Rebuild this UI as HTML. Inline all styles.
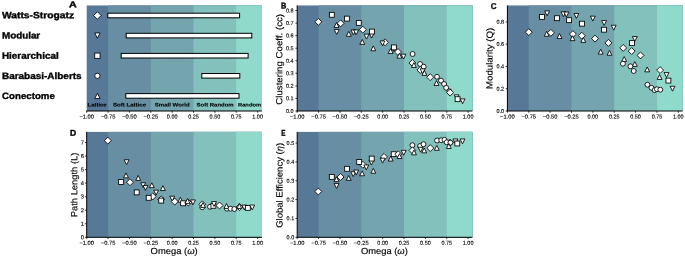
<!DOCTYPE html>
<html><head><meta charset="utf-8"><style>
html,body{margin:0;padding:0;background:#fff;}
body{width:685px;height:258px;overflow:hidden;}
svg{display:block;will-change:transform;text-rendering:geometricPrecision;}
</style></head><body>
<svg width="685" height="258" viewBox="0 0 685 258" font-family='"Liberation Sans", sans-serif'><rect width="685" height="258" fill="#fff"/><rect x="86.70" y="5.45" width="175.20" height="105.55" fill="#587897"/><rect x="108.07" y="5.45" width="153.83" height="105.55" fill="#678ea2"/><rect x="150.80" y="5.45" width="111.10" height="105.55" fill="#74a5af"/><rect x="193.53" y="5.45" width="68.37" height="105.55" fill="#83c1bc"/><rect x="236.26" y="5.45" width="25.64" height="105.55" fill="#90dacc"/><rect x="297.20" y="5.45" width="175.20" height="105.55" fill="#587897"/><rect x="318.57" y="5.45" width="153.83" height="105.55" fill="#678ea2"/><rect x="361.30" y="5.45" width="111.10" height="105.55" fill="#74a5af"/><rect x="404.03" y="5.45" width="68.37" height="105.55" fill="#83c1bc"/><rect x="446.76" y="5.45" width="25.64" height="105.55" fill="#90dacc"/><rect x="507.40" y="5.45" width="175.20" height="105.55" fill="#587897"/><rect x="528.77" y="5.45" width="153.83" height="105.55" fill="#678ea2"/><rect x="571.50" y="5.45" width="111.10" height="105.55" fill="#74a5af"/><rect x="614.23" y="5.45" width="68.37" height="105.55" fill="#83c1bc"/><rect x="656.96" y="5.45" width="25.64" height="105.55" fill="#90dacc"/><rect x="86.70" y="131.90" width="175.20" height="105.40" fill="#587897"/><rect x="108.07" y="131.90" width="153.83" height="105.40" fill="#678ea2"/><rect x="150.80" y="131.90" width="111.10" height="105.40" fill="#74a5af"/><rect x="193.53" y="131.90" width="68.37" height="105.40" fill="#83c1bc"/><rect x="236.26" y="131.90" width="25.64" height="105.40" fill="#90dacc"/><rect x="297.20" y="131.90" width="175.20" height="105.40" fill="#587897"/><rect x="318.57" y="131.90" width="153.83" height="105.40" fill="#678ea2"/><rect x="361.30" y="131.90" width="111.10" height="105.40" fill="#74a5af"/><rect x="404.03" y="131.90" width="68.37" height="105.40" fill="#83c1bc"/><rect x="446.76" y="131.90" width="25.64" height="105.40" fill="#90dacc"/><rect x="107.80" y="13.20" width="131.80" height="4.6" fill="#fff" stroke="#000" stroke-width="1.0"/><path d="M97.40 11.75L101.15 15.50L97.40 19.25L93.65 15.50Z" fill="#fff" stroke="#000" stroke-width="0.85"/><rect x="126.20" y="33.30" width="125.60" height="4.6" fill="#fff" stroke="#000" stroke-width="1.0"/><path d="M97.40 38.25L100.05 32.95L94.75 32.95Z" fill="#fff" stroke="#000" stroke-width="0.85"/><rect x="121.20" y="53.40" width="126.90" height="4.6" fill="#fff" stroke="#000" stroke-width="1.0"/><rect x="94.75" y="53.05" width="5.3" height="5.3" fill="#fff" stroke="#000" stroke-width="0.85"/><rect x="201.80" y="73.50" width="38.00" height="4.6" fill="#fff" stroke="#000" stroke-width="1.0"/><circle cx="97.40" cy="75.80" r="2.65" fill="#fff" stroke="#000" stroke-width="0.85"/><rect x="125.80" y="93.60" width="113.20" height="4.6" fill="#fff" stroke="#000" stroke-width="1.0"/><path d="M97.40 93.25L100.05 98.55L94.75 98.55Z" fill="#fff" stroke="#000" stroke-width="0.85"/><line x1="86.25" y1="111.00" x2="261.90" y2="111.00" stroke="#000" stroke-width="1.0"/><line x1="86.70" y1="111.00" x2="86.70" y2="112.80" stroke="#000" stroke-width="0.75"/><text x="86.70" y="118.50" font-size="5.6" text-anchor="middle" stroke="#000" stroke-width="0.12" textLength="14.60" lengthAdjust="spacingAndGlyphs" transform="rotate(0.05 86.70 118.50)">−1.00</text><line x1="108.07" y1="111.00" x2="108.07" y2="112.80" stroke="#000" stroke-width="0.75"/><text x="108.07" y="118.50" font-size="5.6" text-anchor="middle" stroke="#000" stroke-width="0.12" textLength="14.60" lengthAdjust="spacingAndGlyphs" transform="rotate(0.05 108.07 118.50)">−0.75</text><line x1="129.43" y1="111.00" x2="129.43" y2="112.80" stroke="#000" stroke-width="0.75"/><text x="129.43" y="118.50" font-size="5.6" text-anchor="middle" stroke="#000" stroke-width="0.12" textLength="14.60" lengthAdjust="spacingAndGlyphs" transform="rotate(0.05 129.43 118.50)">−0.50</text><line x1="150.80" y1="111.00" x2="150.80" y2="112.80" stroke="#000" stroke-width="0.75"/><text x="150.80" y="118.50" font-size="5.6" text-anchor="middle" stroke="#000" stroke-width="0.12" textLength="14.60" lengthAdjust="spacingAndGlyphs" transform="rotate(0.05 150.80 118.50)">−0.25</text><line x1="172.16" y1="111.00" x2="172.16" y2="112.80" stroke="#000" stroke-width="0.75"/><text x="172.16" y="118.50" font-size="5.6" text-anchor="middle" stroke="#000" stroke-width="0.12" textLength="10.60" lengthAdjust="spacingAndGlyphs" transform="rotate(0.05 172.16 118.50)">0.00</text><line x1="193.53" y1="111.00" x2="193.53" y2="112.80" stroke="#000" stroke-width="0.75"/><text x="193.53" y="118.50" font-size="5.6" text-anchor="middle" stroke="#000" stroke-width="0.12" textLength="10.60" lengthAdjust="spacingAndGlyphs" transform="rotate(0.05 193.53 118.50)">0.25</text><line x1="214.90" y1="111.00" x2="214.90" y2="112.80" stroke="#000" stroke-width="0.75"/><text x="214.90" y="118.50" font-size="5.6" text-anchor="middle" stroke="#000" stroke-width="0.12" textLength="10.60" lengthAdjust="spacingAndGlyphs" transform="rotate(0.05 214.90 118.50)">0.50</text><line x1="236.26" y1="111.00" x2="236.26" y2="112.80" stroke="#000" stroke-width="0.75"/><text x="236.26" y="118.50" font-size="5.6" text-anchor="middle" stroke="#000" stroke-width="0.12" textLength="10.60" lengthAdjust="spacingAndGlyphs" transform="rotate(0.05 236.26 118.50)">0.75</text><line x1="257.63" y1="111.00" x2="257.63" y2="112.80" stroke="#000" stroke-width="0.75"/><text x="257.63" y="118.50" font-size="5.6" text-anchor="middle" stroke="#000" stroke-width="0.12" textLength="10.60" lengthAdjust="spacingAndGlyphs" transform="rotate(0.05 257.63 118.50)">1.00</text><path d="M336.50 22.55L338.95 27.45L334.05 27.45Z" fill="#fff" stroke="#000" stroke-width="0.85"/><path d="M318.40 18.34L321.86 21.80L318.40 25.26L314.94 21.80Z" fill="#fff" stroke="#000" stroke-width="0.85"/><rect x="329.35" y="12.35" width="4.9" height="4.9" fill="#fff" stroke="#000" stroke-width="0.85"/><rect x="344.45" y="16.15" width="4.9" height="4.9" fill="#fff" stroke="#000" stroke-width="0.85"/><path d="M340.60 19.84L344.06 23.30L340.60 26.76L337.14 23.30Z" fill="#fff" stroke="#000" stroke-width="0.85"/><path d="M336.70 34.45L339.15 29.55L334.25 29.55Z" fill="#fff" stroke="#000" stroke-width="0.85"/><rect x="356.35" y="20.45" width="4.9" height="4.9" fill="#fff" stroke="#000" stroke-width="0.85"/><path d="M348.80 31.35L351.25 36.25L346.35 36.25Z" fill="#fff" stroke="#000" stroke-width="0.85"/><path d="M353.40 34.85L355.85 29.95L350.95 29.95Z" fill="#fff" stroke="#000" stroke-width="0.85"/><path d="M356.10 34.85L358.55 29.95L353.65 29.95Z" fill="#fff" stroke="#000" stroke-width="0.85"/><path d="M362.80 26.14L366.26 29.60L362.80 33.06L359.34 29.60Z" fill="#fff" stroke="#000" stroke-width="0.85"/><path d="M371.60 38.05L374.05 33.15L369.15 33.15Z" fill="#fff" stroke="#000" stroke-width="0.85"/><rect x="369.55" y="29.15" width="4.9" height="4.9" fill="#fff" stroke="#000" stroke-width="0.85"/><path d="M366.50 39.05L368.95 34.15L364.05 34.15Z" fill="#fff" stroke="#000" stroke-width="0.85"/><path d="M362.30 39.45L364.75 44.35L359.85 44.35Z" fill="#fff" stroke="#000" stroke-width="0.85"/><path d="M385.00 38.84L388.46 42.30L385.00 45.76L381.54 42.30Z" fill="#fff" stroke="#000" stroke-width="0.85"/><path d="M382.50 45.85L384.95 40.95L380.05 40.95Z" fill="#fff" stroke="#000" stroke-width="0.85"/><path d="M373.30 45.85L375.75 50.75L370.85 50.75Z" fill="#fff" stroke="#000" stroke-width="0.85"/><path d="M393.80 51.45L396.25 46.55L391.35 46.55Z" fill="#fff" stroke="#000" stroke-width="0.85"/><path d="M390.60 48.55L393.05 53.45L388.15 53.45Z" fill="#fff" stroke="#000" stroke-width="0.85"/><rect x="391.45" y="44.95" width="4.9" height="4.9" fill="#fff" stroke="#000" stroke-width="0.85"/><path d="M398.00 48.54L401.46 52.00L398.00 55.46L394.54 52.00Z" fill="#fff" stroke="#000" stroke-width="0.85"/><path d="M399.40 53.25L401.85 58.15L396.95 58.15Z" fill="#fff" stroke="#000" stroke-width="0.85"/><path d="M403.50 59.05L405.95 54.15L401.05 54.15Z" fill="#fff" stroke="#000" stroke-width="0.85"/><circle cx="412.60" cy="54.00" r="2.45" fill="#fff" stroke="#000" stroke-width="0.85"/><path d="M412.40 59.54L415.86 63.00L412.40 66.46L408.94 63.00Z" fill="#fff" stroke="#000" stroke-width="0.85"/><path d="M413.90 62.55L416.35 67.45L411.45 67.45Z" fill="#fff" stroke="#000" stroke-width="0.85"/><circle cx="420.10" cy="64.00" r="2.45" fill="#fff" stroke="#000" stroke-width="0.85"/><circle cx="423.70" cy="66.70" r="2.45" fill="#fff" stroke="#000" stroke-width="0.85"/><path d="M420.30 66.54L423.76 70.00L420.30 73.46L416.84 70.00Z" fill="#fff" stroke="#000" stroke-width="0.85"/><path d="M422.60 73.75L425.05 68.85L420.15 68.85Z" fill="#fff" stroke="#000" stroke-width="0.85"/><path d="M424.40 70.45L426.85 75.35L421.95 75.35Z" fill="#fff" stroke="#000" stroke-width="0.85"/><path d="M430.20 73.74L433.66 77.20L430.20 80.66L426.74 77.20Z" fill="#fff" stroke="#000" stroke-width="0.85"/><circle cx="437.00" cy="76.80" r="2.45" fill="#fff" stroke="#000" stroke-width="0.85"/><path d="M436.50 80.55L438.95 85.45L434.05 85.45Z" fill="#fff" stroke="#000" stroke-width="0.85"/><circle cx="441.00" cy="80.60" r="2.45" fill="#fff" stroke="#000" stroke-width="0.85"/><circle cx="444.10" cy="84.00" r="2.45" fill="#fff" stroke="#000" stroke-width="0.85"/><circle cx="446.20" cy="87.80" r="2.45" fill="#fff" stroke="#000" stroke-width="0.85"/><circle cx="449.40" cy="91.30" r="2.45" fill="#fff" stroke="#000" stroke-width="0.85"/><path d="M450.10 89.14L453.56 92.60L450.10 96.06L446.64 92.60Z" fill="#fff" stroke="#000" stroke-width="0.85"/><path d="M456.60 99.75L459.05 94.85L454.15 94.85Z" fill="#fff" stroke="#000" stroke-width="0.85"/><rect x="455.15" y="96.75" width="4.9" height="4.9" fill="#fff" stroke="#000" stroke-width="0.85"/><path d="M462.60 103.75L465.05 98.85L460.15 98.85Z" fill="#fff" stroke="#000" stroke-width="0.85"/><line x1="297.20" y1="5.45" x2="297.20" y2="111.40" stroke="#000" stroke-width="1.0"/><line x1="296.75" y1="111.00" x2="472.40" y2="111.00" stroke="#000" stroke-width="1.0"/><line x1="297.20" y1="111.00" x2="297.20" y2="112.80" stroke="#000" stroke-width="0.75"/><text x="297.20" y="118.50" font-size="5.6" text-anchor="middle" stroke="#000" stroke-width="0.12" textLength="14.60" lengthAdjust="spacingAndGlyphs" transform="rotate(0.05 297.20 118.50)">−1.00</text><line x1="318.57" y1="111.00" x2="318.57" y2="112.80" stroke="#000" stroke-width="0.75"/><text x="318.57" y="118.50" font-size="5.6" text-anchor="middle" stroke="#000" stroke-width="0.12" textLength="14.60" lengthAdjust="spacingAndGlyphs" transform="rotate(0.05 318.57 118.50)">−0.75</text><line x1="339.93" y1="111.00" x2="339.93" y2="112.80" stroke="#000" stroke-width="0.75"/><text x="339.93" y="118.50" font-size="5.6" text-anchor="middle" stroke="#000" stroke-width="0.12" textLength="14.60" lengthAdjust="spacingAndGlyphs" transform="rotate(0.05 339.93 118.50)">−0.50</text><line x1="361.30" y1="111.00" x2="361.30" y2="112.80" stroke="#000" stroke-width="0.75"/><text x="361.30" y="118.50" font-size="5.6" text-anchor="middle" stroke="#000" stroke-width="0.12" textLength="14.60" lengthAdjust="spacingAndGlyphs" transform="rotate(0.05 361.30 118.50)">−0.25</text><line x1="382.66" y1="111.00" x2="382.66" y2="112.80" stroke="#000" stroke-width="0.75"/><text x="382.66" y="118.50" font-size="5.6" text-anchor="middle" stroke="#000" stroke-width="0.12" textLength="10.60" lengthAdjust="spacingAndGlyphs" transform="rotate(0.05 382.66 118.50)">0.00</text><line x1="404.03" y1="111.00" x2="404.03" y2="112.80" stroke="#000" stroke-width="0.75"/><text x="404.03" y="118.50" font-size="5.6" text-anchor="middle" stroke="#000" stroke-width="0.12" textLength="10.60" lengthAdjust="spacingAndGlyphs" transform="rotate(0.05 404.03 118.50)">0.25</text><line x1="425.40" y1="111.00" x2="425.40" y2="112.80" stroke="#000" stroke-width="0.75"/><text x="425.40" y="118.50" font-size="5.6" text-anchor="middle" stroke="#000" stroke-width="0.12" textLength="10.60" lengthAdjust="spacingAndGlyphs" transform="rotate(0.05 425.40 118.50)">0.50</text><line x1="446.76" y1="111.00" x2="446.76" y2="112.80" stroke="#000" stroke-width="0.75"/><text x="446.76" y="118.50" font-size="5.6" text-anchor="middle" stroke="#000" stroke-width="0.12" textLength="10.60" lengthAdjust="spacingAndGlyphs" transform="rotate(0.05 446.76 118.50)">0.75</text><line x1="468.13" y1="111.00" x2="468.13" y2="112.80" stroke="#000" stroke-width="0.75"/><text x="468.13" y="118.50" font-size="5.6" text-anchor="middle" stroke="#000" stroke-width="0.12" textLength="10.60" lengthAdjust="spacingAndGlyphs" transform="rotate(0.05 468.13 118.50)">1.00</text><line x1="295.40" y1="111.00" x2="297.20" y2="111.00" stroke="#000" stroke-width="0.75"/><text x="293.60" y="112.95" font-size="5.6" text-anchor="end" stroke="#000" stroke-width="0.12" textLength="7.60" lengthAdjust="spacingAndGlyphs" transform="rotate(0.05 293.60 112.95)">0.0</text><line x1="295.40" y1="98.44" x2="297.20" y2="98.44" stroke="#000" stroke-width="0.75"/><text x="293.60" y="100.39" font-size="5.6" text-anchor="end" stroke="#000" stroke-width="0.12" textLength="7.60" lengthAdjust="spacingAndGlyphs" transform="rotate(0.05 293.60 100.39)">0.1</text><line x1="295.40" y1="85.88" x2="297.20" y2="85.88" stroke="#000" stroke-width="0.75"/><text x="293.60" y="87.83" font-size="5.6" text-anchor="end" stroke="#000" stroke-width="0.12" textLength="7.60" lengthAdjust="spacingAndGlyphs" transform="rotate(0.05 293.60 87.83)">0.2</text><line x1="295.40" y1="73.32" x2="297.20" y2="73.32" stroke="#000" stroke-width="0.75"/><text x="293.60" y="75.27" font-size="5.6" text-anchor="end" stroke="#000" stroke-width="0.12" textLength="7.60" lengthAdjust="spacingAndGlyphs" transform="rotate(0.05 293.60 75.27)">0.3</text><line x1="295.40" y1="60.76" x2="297.20" y2="60.76" stroke="#000" stroke-width="0.75"/><text x="293.60" y="62.71" font-size="5.6" text-anchor="end" stroke="#000" stroke-width="0.12" textLength="7.60" lengthAdjust="spacingAndGlyphs" transform="rotate(0.05 293.60 62.71)">0.4</text><line x1="295.40" y1="48.20" x2="297.20" y2="48.20" stroke="#000" stroke-width="0.75"/><text x="293.60" y="50.15" font-size="5.6" text-anchor="end" stroke="#000" stroke-width="0.12" textLength="7.60" lengthAdjust="spacingAndGlyphs" transform="rotate(0.05 293.60 50.15)">0.5</text><line x1="295.40" y1="35.64" x2="297.20" y2="35.64" stroke="#000" stroke-width="0.75"/><text x="293.60" y="37.59" font-size="5.6" text-anchor="end" stroke="#000" stroke-width="0.12" textLength="7.60" lengthAdjust="spacingAndGlyphs" transform="rotate(0.05 293.60 37.59)">0.6</text><line x1="295.40" y1="23.08" x2="297.20" y2="23.08" stroke="#000" stroke-width="0.75"/><text x="293.60" y="25.03" font-size="5.6" text-anchor="end" stroke="#000" stroke-width="0.12" textLength="7.60" lengthAdjust="spacingAndGlyphs" transform="rotate(0.05 293.60 25.03)">0.7</text><line x1="295.40" y1="10.52" x2="297.20" y2="10.52" stroke="#000" stroke-width="0.75"/><text x="293.60" y="12.47" font-size="5.6" text-anchor="end" stroke="#000" stroke-width="0.12" textLength="7.60" lengthAdjust="spacingAndGlyphs" transform="rotate(0.05 293.60 12.47)">0.8</text><path d="M528.80 28.64L532.26 32.10L528.80 35.56L525.34 32.10Z" fill="#fff" stroke="#000" stroke-width="0.85"/><rect x="539.55" y="14.45" width="4.9" height="4.9" fill="#fff" stroke="#000" stroke-width="0.85"/><path d="M547.10 15.85L549.55 10.95L544.65 10.95Z" fill="#fff" stroke="#000" stroke-width="0.85"/><rect x="554.55" y="15.75" width="4.9" height="4.9" fill="#fff" stroke="#000" stroke-width="0.85"/><path d="M563.40 16.65L565.85 11.75L560.95 11.75Z" fill="#fff" stroke="#000" stroke-width="0.85"/><path d="M566.40 16.95L568.85 12.05L563.95 12.05Z" fill="#fff" stroke="#000" stroke-width="0.85"/><rect x="566.65" y="17.75" width="4.9" height="4.9" fill="#fff" stroke="#000" stroke-width="0.85"/><path d="M576.40 18.35L578.85 13.45L573.95 13.45Z" fill="#fff" stroke="#000" stroke-width="0.85"/><rect x="579.55" y="21.25" width="4.9" height="4.9" fill="#fff" stroke="#000" stroke-width="0.85"/><path d="M592.80 21.05L595.25 16.15L590.35 16.15Z" fill="#fff" stroke="#000" stroke-width="0.85"/><path d="M604.10 25.45L606.55 20.55L601.65 20.55Z" fill="#fff" stroke="#000" stroke-width="0.85"/><rect x="601.55" y="27.25" width="4.9" height="4.9" fill="#fff" stroke="#000" stroke-width="0.85"/><path d="M613.70 30.15L616.15 25.25L611.25 25.25Z" fill="#fff" stroke="#000" stroke-width="0.85"/><path d="M546.70 31.35L549.15 36.25L544.25 36.25Z" fill="#fff" stroke="#000" stroke-width="0.85"/><path d="M550.90 29.34L554.36 32.80L550.90 36.26L547.44 32.80Z" fill="#fff" stroke="#000" stroke-width="0.85"/><path d="M559.50 33.55L561.95 38.45L557.05 38.45Z" fill="#fff" stroke="#000" stroke-width="0.85"/><path d="M572.90 30.64L576.36 34.10L572.90 37.56L569.44 34.10Z" fill="#fff" stroke="#000" stroke-width="0.85"/><path d="M572.50 35.75L574.95 40.65L570.05 40.65Z" fill="#fff" stroke="#000" stroke-width="0.85"/><path d="M581.80 32.24L585.26 35.70L581.80 39.16L578.34 35.70Z" fill="#fff" stroke="#000" stroke-width="0.85"/><path d="M583.30 37.45L585.75 42.35L580.85 42.35Z" fill="#fff" stroke="#000" stroke-width="0.85"/><path d="M595.00 35.14L598.46 38.60L595.00 42.06L591.54 38.60Z" fill="#fff" stroke="#000" stroke-width="0.85"/><path d="M608.40 39.44L611.86 42.90L608.40 46.36L604.94 42.90Z" fill="#fff" stroke="#000" stroke-width="0.85"/><path d="M600.70 49.25L603.15 54.15L598.25 54.15Z" fill="#fff" stroke="#000" stroke-width="0.85"/><path d="M609.50 50.35L611.95 55.25L607.05 55.25Z" fill="#fff" stroke="#000" stroke-width="0.85"/><path d="M634.80 41.45L637.25 36.55L632.35 36.55Z" fill="#fff" stroke="#000" stroke-width="0.85"/><rect x="629.55" y="40.65" width="4.9" height="4.9" fill="#fff" stroke="#000" stroke-width="0.85"/><path d="M623.20 44.44L626.66 47.90L623.20 51.36L619.74 47.90Z" fill="#fff" stroke="#000" stroke-width="0.85"/><path d="M631.70 47.64L635.16 51.10L631.70 54.56L628.24 51.10Z" fill="#fff" stroke="#000" stroke-width="0.85"/><path d="M640.50 51.94L643.96 55.40L640.50 58.86L637.04 55.40Z" fill="#fff" stroke="#000" stroke-width="0.85"/><path d="M624.20 56.55L626.65 61.45L621.75 61.45Z" fill="#fff" stroke="#000" stroke-width="0.85"/><circle cx="622.90" cy="63.70" r="2.45" fill="#fff" stroke="#000" stroke-width="0.85"/><path d="M634.80 61.55L637.25 66.45L632.35 66.45Z" fill="#fff" stroke="#000" stroke-width="0.85"/><circle cx="630.40" cy="66.30" r="2.45" fill="#fff" stroke="#000" stroke-width="0.85"/><circle cx="633.70" cy="71.00" r="2.45" fill="#fff" stroke="#000" stroke-width="0.85"/><path d="M647.20 66.95L649.65 71.85L644.75 71.85Z" fill="#fff" stroke="#000" stroke-width="0.85"/><path d="M660.10 66.64L663.56 70.10L660.10 73.56L656.64 70.10Z" fill="#fff" stroke="#000" stroke-width="0.85"/><path d="M659.60 74.55L662.05 79.45L657.15 79.45Z" fill="#fff" stroke="#000" stroke-width="0.85"/><path d="M666.50 77.45L668.95 72.55L664.05 72.55Z" fill="#fff" stroke="#000" stroke-width="0.85"/><rect x="665.95" y="78.15" width="4.9" height="4.9" fill="#fff" stroke="#000" stroke-width="0.85"/><path d="M672.50 91.15L674.95 86.25L670.05 86.25Z" fill="#fff" stroke="#000" stroke-width="0.85"/><circle cx="647.40" cy="84.70" r="2.45" fill="#fff" stroke="#000" stroke-width="0.85"/><circle cx="651.50" cy="87.80" r="2.45" fill="#fff" stroke="#000" stroke-width="0.85"/><circle cx="654.60" cy="90.10" r="2.45" fill="#fff" stroke="#000" stroke-width="0.85"/><circle cx="656.90" cy="89.20" r="2.45" fill="#fff" stroke="#000" stroke-width="0.85"/><circle cx="660.30" cy="89.70" r="2.45" fill="#fff" stroke="#000" stroke-width="0.85"/><line x1="507.40" y1="5.45" x2="507.40" y2="111.40" stroke="#000" stroke-width="1.0"/><line x1="506.95" y1="111.00" x2="682.60" y2="111.00" stroke="#000" stroke-width="1.0"/><line x1="507.40" y1="111.00" x2="507.40" y2="112.80" stroke="#000" stroke-width="0.75"/><text x="507.40" y="118.50" font-size="5.6" text-anchor="middle" stroke="#000" stroke-width="0.12" textLength="14.60" lengthAdjust="spacingAndGlyphs" transform="rotate(0.05 507.40 118.50)">−1.00</text><line x1="528.77" y1="111.00" x2="528.77" y2="112.80" stroke="#000" stroke-width="0.75"/><text x="528.77" y="118.50" font-size="5.6" text-anchor="middle" stroke="#000" stroke-width="0.12" textLength="14.60" lengthAdjust="spacingAndGlyphs" transform="rotate(0.05 528.77 118.50)">−0.75</text><line x1="550.13" y1="111.00" x2="550.13" y2="112.80" stroke="#000" stroke-width="0.75"/><text x="550.13" y="118.50" font-size="5.6" text-anchor="middle" stroke="#000" stroke-width="0.12" textLength="14.60" lengthAdjust="spacingAndGlyphs" transform="rotate(0.05 550.13 118.50)">−0.50</text><line x1="571.50" y1="111.00" x2="571.50" y2="112.80" stroke="#000" stroke-width="0.75"/><text x="571.50" y="118.50" font-size="5.6" text-anchor="middle" stroke="#000" stroke-width="0.12" textLength="14.60" lengthAdjust="spacingAndGlyphs" transform="rotate(0.05 571.50 118.50)">−0.25</text><line x1="592.86" y1="111.00" x2="592.86" y2="112.80" stroke="#000" stroke-width="0.75"/><text x="592.86" y="118.50" font-size="5.6" text-anchor="middle" stroke="#000" stroke-width="0.12" textLength="10.60" lengthAdjust="spacingAndGlyphs" transform="rotate(0.05 592.86 118.50)">0.00</text><line x1="614.23" y1="111.00" x2="614.23" y2="112.80" stroke="#000" stroke-width="0.75"/><text x="614.23" y="118.50" font-size="5.6" text-anchor="middle" stroke="#000" stroke-width="0.12" textLength="10.60" lengthAdjust="spacingAndGlyphs" transform="rotate(0.05 614.23 118.50)">0.25</text><line x1="635.60" y1="111.00" x2="635.60" y2="112.80" stroke="#000" stroke-width="0.75"/><text x="635.60" y="118.50" font-size="5.6" text-anchor="middle" stroke="#000" stroke-width="0.12" textLength="10.60" lengthAdjust="spacingAndGlyphs" transform="rotate(0.05 635.60 118.50)">0.50</text><line x1="656.96" y1="111.00" x2="656.96" y2="112.80" stroke="#000" stroke-width="0.75"/><text x="656.96" y="118.50" font-size="5.6" text-anchor="middle" stroke="#000" stroke-width="0.12" textLength="10.60" lengthAdjust="spacingAndGlyphs" transform="rotate(0.05 656.96 118.50)">0.75</text><line x1="678.33" y1="111.00" x2="678.33" y2="112.80" stroke="#000" stroke-width="0.75"/><text x="678.33" y="118.50" font-size="5.6" text-anchor="middle" stroke="#000" stroke-width="0.12" textLength="10.60" lengthAdjust="spacingAndGlyphs" transform="rotate(0.05 678.33 118.50)">1.00</text><line x1="505.60" y1="111.00" x2="507.40" y2="111.00" stroke="#000" stroke-width="0.75"/><text x="504.00" y="112.95" font-size="5.6" text-anchor="end" stroke="#000" stroke-width="0.12" textLength="7.60" lengthAdjust="spacingAndGlyphs" transform="rotate(0.05 504.00 112.95)">0.0</text><line x1="505.60" y1="88.72" x2="507.40" y2="88.72" stroke="#000" stroke-width="0.75"/><text x="504.00" y="90.67" font-size="5.6" text-anchor="end" stroke="#000" stroke-width="0.12" textLength="7.60" lengthAdjust="spacingAndGlyphs" transform="rotate(0.05 504.00 90.67)">0.2</text><line x1="505.60" y1="66.44" x2="507.40" y2="66.44" stroke="#000" stroke-width="0.75"/><text x="504.00" y="68.39" font-size="5.6" text-anchor="end" stroke="#000" stroke-width="0.12" textLength="7.60" lengthAdjust="spacingAndGlyphs" transform="rotate(0.05 504.00 68.39)">0.4</text><line x1="505.60" y1="44.16" x2="507.40" y2="44.16" stroke="#000" stroke-width="0.75"/><text x="504.00" y="46.11" font-size="5.6" text-anchor="end" stroke="#000" stroke-width="0.12" textLength="7.60" lengthAdjust="spacingAndGlyphs" transform="rotate(0.05 504.00 46.11)">0.6</text><line x1="505.60" y1="21.88" x2="507.40" y2="21.88" stroke="#000" stroke-width="0.75"/><text x="504.00" y="23.83" font-size="5.6" text-anchor="end" stroke="#000" stroke-width="0.12" textLength="7.60" lengthAdjust="spacingAndGlyphs" transform="rotate(0.05 504.00 23.83)">0.8</text><path d="M107.80 137.14L111.26 140.60L107.80 144.06L104.34 140.60Z" fill="#fff" stroke="#000" stroke-width="0.85"/><path d="M126.60 164.65L129.05 159.75L124.15 159.75Z" fill="#fff" stroke="#000" stroke-width="0.85"/><path d="M126.00 172.95L128.45 177.85L123.55 177.85Z" fill="#fff" stroke="#000" stroke-width="0.85"/><path d="M138.20 175.45L140.65 180.35L135.75 180.35Z" fill="#fff" stroke="#000" stroke-width="0.85"/><rect x="118.65" y="179.55" width="4.9" height="4.9" fill="#fff" stroke="#000" stroke-width="0.85"/><path d="M130.00 178.74L133.46 182.20L130.00 185.66L126.54 182.20Z" fill="#fff" stroke="#000" stroke-width="0.85"/><path d="M143.20 187.65L145.65 182.75L140.75 182.75Z" fill="#fff" stroke="#000" stroke-width="0.85"/><path d="M145.50 190.35L147.95 185.45L143.05 185.45Z" fill="#fff" stroke="#000" stroke-width="0.85"/><path d="M151.80 182.75L154.25 187.65L149.35 187.65Z" fill="#fff" stroke="#000" stroke-width="0.85"/><rect x="134.25" y="189.95" width="4.9" height="4.9" fill="#fff" stroke="#000" stroke-width="0.85"/><path d="M162.90 185.65L165.35 190.55L160.45 190.55Z" fill="#fff" stroke="#000" stroke-width="0.85"/><path d="M152.70 192.94L156.16 196.40L152.70 199.86L149.24 196.40Z" fill="#fff" stroke="#000" stroke-width="0.85"/><rect x="146.25" y="195.35" width="4.9" height="4.9" fill="#fff" stroke="#000" stroke-width="0.85"/><path d="M156.10 195.05L158.55 190.15L153.65 190.15Z" fill="#fff" stroke="#000" stroke-width="0.85"/><path d="M161.20 195.94L164.66 199.40L161.20 202.86L157.74 199.40Z" fill="#fff" stroke="#000" stroke-width="0.85"/><rect x="158.75" y="198.15" width="4.9" height="4.9" fill="#fff" stroke="#000" stroke-width="0.85"/><path d="M172.20 201.05L174.65 196.15L169.75 196.15Z" fill="#fff" stroke="#000" stroke-width="0.85"/><path d="M174.70 198.14L178.16 201.60L174.70 205.06L171.24 201.60Z" fill="#fff" stroke="#000" stroke-width="0.85"/><path d="M180.40 197.25L182.85 202.15L177.95 202.15Z" fill="#fff" stroke="#000" stroke-width="0.85"/><rect x="180.65" y="200.85" width="4.9" height="4.9" fill="#fff" stroke="#000" stroke-width="0.85"/><path d="M188.30 199.14L191.76 202.60L188.30 206.06L184.84 202.60Z" fill="#fff" stroke="#000" stroke-width="0.85"/><path d="M187.50 198.55L189.95 203.45L185.05 203.45Z" fill="#fff" stroke="#000" stroke-width="0.85"/><path d="M193.00 204.85L195.45 199.95L190.55 199.95Z" fill="#fff" stroke="#000" stroke-width="0.85"/><path d="M202.40 200.84L205.86 204.30L202.40 207.76L198.94 204.30Z" fill="#fff" stroke="#000" stroke-width="0.85"/><circle cx="202.20" cy="207.30" r="2.45" fill="#fff" stroke="#000" stroke-width="0.85"/><path d="M203.00 202.55L205.45 207.45L200.55 207.45Z" fill="#fff" stroke="#000" stroke-width="0.85"/><circle cx="210.00" cy="206.80" r="2.45" fill="#fff" stroke="#000" stroke-width="0.85"/><rect x="210.95" y="203.35" width="4.9" height="4.9" fill="#fff" stroke="#000" stroke-width="0.85"/><path d="M214.00 206.45L216.45 201.55L211.55 201.55Z" fill="#fff" stroke="#000" stroke-width="0.85"/><path d="M219.50 202.04L222.96 205.50L219.50 208.96L216.04 205.50Z" fill="#fff" stroke="#000" stroke-width="0.85"/><circle cx="226.90" cy="208.70" r="2.45" fill="#fff" stroke="#000" stroke-width="0.85"/><path d="M226.50 203.55L228.95 208.45L224.05 208.45Z" fill="#fff" stroke="#000" stroke-width="0.85"/><circle cx="230.50" cy="208.70" r="2.45" fill="#fff" stroke="#000" stroke-width="0.85"/><circle cx="234.30" cy="209.00" r="2.45" fill="#fff" stroke="#000" stroke-width="0.85"/><path d="M239.50 203.64L242.96 207.10L239.50 210.56L236.04 207.10Z" fill="#fff" stroke="#000" stroke-width="0.85"/><path d="M239.30 203.55L241.75 208.45L236.85 208.45Z" fill="#fff" stroke="#000" stroke-width="0.85"/><path d="M244.30 209.95L246.75 205.05L241.85 205.05Z" fill="#fff" stroke="#000" stroke-width="0.85"/><rect x="245.35" y="205.45" width="4.9" height="4.9" fill="#fff" stroke="#000" stroke-width="0.85"/><path d="M252.20 209.95L254.65 205.05L249.75 205.05Z" fill="#fff" stroke="#000" stroke-width="0.85"/><line x1="86.70" y1="131.90" x2="86.70" y2="237.70" stroke="#000" stroke-width="1.0"/><line x1="86.25" y1="237.30" x2="261.90" y2="237.30" stroke="#000" stroke-width="1.0"/><line x1="86.70" y1="237.30" x2="86.70" y2="239.10" stroke="#000" stroke-width="0.75"/><text x="86.70" y="244.80" font-size="5.6" text-anchor="middle" stroke="#000" stroke-width="0.12" textLength="14.60" lengthAdjust="spacingAndGlyphs" transform="rotate(0.05 86.70 244.80)">−1.00</text><line x1="108.07" y1="237.30" x2="108.07" y2="239.10" stroke="#000" stroke-width="0.75"/><text x="108.07" y="244.80" font-size="5.6" text-anchor="middle" stroke="#000" stroke-width="0.12" textLength="14.60" lengthAdjust="spacingAndGlyphs" transform="rotate(0.05 108.07 244.80)">−0.75</text><line x1="129.43" y1="237.30" x2="129.43" y2="239.10" stroke="#000" stroke-width="0.75"/><text x="129.43" y="244.80" font-size="5.6" text-anchor="middle" stroke="#000" stroke-width="0.12" textLength="14.60" lengthAdjust="spacingAndGlyphs" transform="rotate(0.05 129.43 244.80)">−0.50</text><line x1="150.80" y1="237.30" x2="150.80" y2="239.10" stroke="#000" stroke-width="0.75"/><text x="150.80" y="244.80" font-size="5.6" text-anchor="middle" stroke="#000" stroke-width="0.12" textLength="14.60" lengthAdjust="spacingAndGlyphs" transform="rotate(0.05 150.80 244.80)">−0.25</text><line x1="172.16" y1="237.30" x2="172.16" y2="239.10" stroke="#000" stroke-width="0.75"/><text x="172.16" y="244.80" font-size="5.6" text-anchor="middle" stroke="#000" stroke-width="0.12" textLength="10.60" lengthAdjust="spacingAndGlyphs" transform="rotate(0.05 172.16 244.80)">0.00</text><line x1="193.53" y1="237.30" x2="193.53" y2="239.10" stroke="#000" stroke-width="0.75"/><text x="193.53" y="244.80" font-size="5.6" text-anchor="middle" stroke="#000" stroke-width="0.12" textLength="10.60" lengthAdjust="spacingAndGlyphs" transform="rotate(0.05 193.53 244.80)">0.25</text><line x1="214.90" y1="237.30" x2="214.90" y2="239.10" stroke="#000" stroke-width="0.75"/><text x="214.90" y="244.80" font-size="5.6" text-anchor="middle" stroke="#000" stroke-width="0.12" textLength="10.60" lengthAdjust="spacingAndGlyphs" transform="rotate(0.05 214.90 244.80)">0.50</text><line x1="236.26" y1="237.30" x2="236.26" y2="239.10" stroke="#000" stroke-width="0.75"/><text x="236.26" y="244.80" font-size="5.6" text-anchor="middle" stroke="#000" stroke-width="0.12" textLength="10.60" lengthAdjust="spacingAndGlyphs" transform="rotate(0.05 236.26 244.80)">0.75</text><line x1="257.63" y1="237.30" x2="257.63" y2="239.10" stroke="#000" stroke-width="0.75"/><text x="257.63" y="244.80" font-size="5.6" text-anchor="middle" stroke="#000" stroke-width="0.12" textLength="10.60" lengthAdjust="spacingAndGlyphs" transform="rotate(0.05 257.63 244.80)">1.00</text><line x1="84.90" y1="237.30" x2="86.70" y2="237.30" stroke="#000" stroke-width="0.75"/><text x="84.00" y="239.25" font-size="5.6" text-anchor="end" stroke="#000" stroke-width="0.12" textLength="3.20" lengthAdjust="spacingAndGlyphs" transform="rotate(0.05 84.00 239.25)">0</text><line x1="84.90" y1="223.76" x2="86.70" y2="223.76" stroke="#000" stroke-width="0.75"/><text x="84.00" y="225.71" font-size="5.6" text-anchor="end" stroke="#000" stroke-width="0.12" textLength="3.20" lengthAdjust="spacingAndGlyphs" transform="rotate(0.05 84.00 225.71)">1</text><line x1="84.90" y1="210.22" x2="86.70" y2="210.22" stroke="#000" stroke-width="0.75"/><text x="84.00" y="212.17" font-size="5.6" text-anchor="end" stroke="#000" stroke-width="0.12" textLength="3.20" lengthAdjust="spacingAndGlyphs" transform="rotate(0.05 84.00 212.17)">2</text><line x1="84.90" y1="196.68" x2="86.70" y2="196.68" stroke="#000" stroke-width="0.75"/><text x="84.00" y="198.63" font-size="5.6" text-anchor="end" stroke="#000" stroke-width="0.12" textLength="3.20" lengthAdjust="spacingAndGlyphs" transform="rotate(0.05 84.00 198.63)">3</text><line x1="84.90" y1="183.14" x2="86.70" y2="183.14" stroke="#000" stroke-width="0.75"/><text x="84.00" y="185.09" font-size="5.6" text-anchor="end" stroke="#000" stroke-width="0.12" textLength="3.20" lengthAdjust="spacingAndGlyphs" transform="rotate(0.05 84.00 185.09)">4</text><line x1="84.90" y1="169.60" x2="86.70" y2="169.60" stroke="#000" stroke-width="0.75"/><text x="84.00" y="171.55" font-size="5.6" text-anchor="end" stroke="#000" stroke-width="0.12" textLength="3.20" lengthAdjust="spacingAndGlyphs" transform="rotate(0.05 84.00 171.55)">5</text><line x1="84.90" y1="156.06" x2="86.70" y2="156.06" stroke="#000" stroke-width="0.75"/><text x="84.00" y="158.01" font-size="5.6" text-anchor="end" stroke="#000" stroke-width="0.12" textLength="3.20" lengthAdjust="spacingAndGlyphs" transform="rotate(0.05 84.00 158.01)">6</text><line x1="84.90" y1="142.52" x2="86.70" y2="142.52" stroke="#000" stroke-width="0.75"/><text x="84.00" y="144.47" font-size="5.6" text-anchor="end" stroke="#000" stroke-width="0.12" textLength="3.20" lengthAdjust="spacingAndGlyphs" transform="rotate(0.05 84.00 144.47)">7</text><path d="M318.30 188.04L321.76 191.50L318.30 194.96L314.84 191.50Z" fill="#fff" stroke="#000" stroke-width="0.85"/><rect x="329.35" y="174.45" width="4.9" height="4.9" fill="#fff" stroke="#000" stroke-width="0.85"/><path d="M336.50 176.75L338.95 181.65L334.05 181.65Z" fill="#fff" stroke="#000" stroke-width="0.85"/><path d="M340.50 173.54L343.96 177.00L340.50 180.46L337.04 177.00Z" fill="#fff" stroke="#000" stroke-width="0.85"/><path d="M336.60 188.45L339.05 183.55L334.15 183.55Z" fill="#fff" stroke="#000" stroke-width="0.85"/><rect x="344.65" y="166.35" width="4.9" height="4.9" fill="#fff" stroke="#000" stroke-width="0.85"/><path d="M348.70 175.45L351.15 180.35L346.25 180.35Z" fill="#fff" stroke="#000" stroke-width="0.85"/><path d="M353.20 176.65L355.65 171.75L350.75 171.75Z" fill="#fff" stroke="#000" stroke-width="0.85"/><path d="M356.20 174.95L358.65 170.05L353.75 170.05Z" fill="#fff" stroke="#000" stroke-width="0.85"/><path d="M362.90 161.34L366.36 164.80L362.90 168.26L359.44 164.80Z" fill="#fff" stroke="#000" stroke-width="0.85"/><rect x="356.75" y="159.55" width="4.9" height="4.9" fill="#fff" stroke="#000" stroke-width="0.85"/><path d="M362.10 170.85L364.55 175.75L359.65 175.75Z" fill="#fff" stroke="#000" stroke-width="0.85"/><path d="M366.30 169.85L368.75 164.95L363.85 164.95Z" fill="#fff" stroke="#000" stroke-width="0.85"/><path d="M371.40 165.05L373.85 160.15L368.95 160.15Z" fill="#fff" stroke="#000" stroke-width="0.85"/><rect x="369.25" y="156.15" width="4.9" height="4.9" fill="#fff" stroke="#000" stroke-width="0.85"/><path d="M373.30 168.35L375.75 173.25L370.85 173.25Z" fill="#fff" stroke="#000" stroke-width="0.85"/><path d="M384.00 153.44L387.46 156.90L384.00 160.36L380.54 156.90Z" fill="#fff" stroke="#000" stroke-width="0.85"/><path d="M382.60 163.05L385.05 158.15L380.15 158.15Z" fill="#fff" stroke="#000" stroke-width="0.85"/><path d="M390.70 156.15L393.15 161.05L388.25 161.05Z" fill="#fff" stroke="#000" stroke-width="0.85"/><rect x="391.25" y="151.75" width="4.9" height="4.9" fill="#fff" stroke="#000" stroke-width="0.85"/><path d="M398.30 150.84L401.76 154.30L398.30 157.76L394.84 154.30Z" fill="#fff" stroke="#000" stroke-width="0.85"/><path d="M399.50 153.65L401.95 158.55L397.05 158.55Z" fill="#fff" stroke="#000" stroke-width="0.85"/><path d="M403.70 155.25L406.15 150.35L401.25 150.35Z" fill="#fff" stroke="#000" stroke-width="0.85"/><circle cx="412.40" cy="145.20" r="2.45" fill="#fff" stroke="#000" stroke-width="0.85"/><path d="M412.40 146.94L415.86 150.40L412.40 153.86L408.94 150.40Z" fill="#fff" stroke="#000" stroke-width="0.85"/><path d="M414.00 149.95L416.45 154.85L411.55 154.85Z" fill="#fff" stroke="#000" stroke-width="0.85"/><circle cx="420.10" cy="146.00" r="2.45" fill="#fff" stroke="#000" stroke-width="0.85"/><circle cx="423.50" cy="144.20" r="2.45" fill="#fff" stroke="#000" stroke-width="0.85"/><path d="M420.60 152.15L423.05 147.25L418.15 147.25Z" fill="#fff" stroke="#000" stroke-width="0.85"/><path d="M424.20 147.95L426.65 152.85L421.75 152.85Z" fill="#fff" stroke="#000" stroke-width="0.85"/><path d="M430.30 144.64L433.76 148.10L430.30 151.56L426.84 148.10Z" fill="#fff" stroke="#000" stroke-width="0.85"/><path d="M436.80 145.35L439.25 150.25L434.35 150.25Z" fill="#fff" stroke="#000" stroke-width="0.85"/><circle cx="437.10" cy="140.50" r="2.45" fill="#fff" stroke="#000" stroke-width="0.85"/><circle cx="441.20" cy="140.20" r="2.45" fill="#fff" stroke="#000" stroke-width="0.85"/><circle cx="444.50" cy="139.80" r="2.45" fill="#fff" stroke="#000" stroke-width="0.85"/><path d="M449.80 139.04L453.26 142.50L449.80 145.96L446.34 142.50Z" fill="#fff" stroke="#000" stroke-width="0.85"/><circle cx="446.70" cy="142.30" r="2.45" fill="#fff" stroke="#000" stroke-width="0.85"/><circle cx="450.40" cy="142.70" r="2.45" fill="#fff" stroke="#000" stroke-width="0.85"/><path d="M448.80 143.55L451.25 148.45L446.35 148.45Z" fill="#fff" stroke="#000" stroke-width="0.85"/><path d="M455.40 143.85L457.85 138.95L452.95 138.95Z" fill="#fff" stroke="#000" stroke-width="0.85"/><rect x="454.85" y="141.05" width="4.9" height="4.9" fill="#fff" stroke="#000" stroke-width="0.85"/><path d="M462.50 143.85L464.95 138.95L460.05 138.95Z" fill="#fff" stroke="#000" stroke-width="0.85"/><line x1="297.20" y1="131.90" x2="297.20" y2="237.70" stroke="#000" stroke-width="1.0"/><line x1="296.75" y1="237.30" x2="472.40" y2="237.30" stroke="#000" stroke-width="1.0"/><line x1="297.20" y1="237.30" x2="297.20" y2="239.10" stroke="#000" stroke-width="0.75"/><text x="297.20" y="244.80" font-size="5.6" text-anchor="middle" stroke="#000" stroke-width="0.12" textLength="14.60" lengthAdjust="spacingAndGlyphs" transform="rotate(0.05 297.20 244.80)">−1.00</text><line x1="318.57" y1="237.30" x2="318.57" y2="239.10" stroke="#000" stroke-width="0.75"/><text x="318.57" y="244.80" font-size="5.6" text-anchor="middle" stroke="#000" stroke-width="0.12" textLength="14.60" lengthAdjust="spacingAndGlyphs" transform="rotate(0.05 318.57 244.80)">−0.75</text><line x1="339.93" y1="237.30" x2="339.93" y2="239.10" stroke="#000" stroke-width="0.75"/><text x="339.93" y="244.80" font-size="5.6" text-anchor="middle" stroke="#000" stroke-width="0.12" textLength="14.60" lengthAdjust="spacingAndGlyphs" transform="rotate(0.05 339.93 244.80)">−0.50</text><line x1="361.30" y1="237.30" x2="361.30" y2="239.10" stroke="#000" stroke-width="0.75"/><text x="361.30" y="244.80" font-size="5.6" text-anchor="middle" stroke="#000" stroke-width="0.12" textLength="14.60" lengthAdjust="spacingAndGlyphs" transform="rotate(0.05 361.30 244.80)">−0.25</text><line x1="382.66" y1="237.30" x2="382.66" y2="239.10" stroke="#000" stroke-width="0.75"/><text x="382.66" y="244.80" font-size="5.6" text-anchor="middle" stroke="#000" stroke-width="0.12" textLength="10.60" lengthAdjust="spacingAndGlyphs" transform="rotate(0.05 382.66 244.80)">0.00</text><line x1="404.03" y1="237.30" x2="404.03" y2="239.10" stroke="#000" stroke-width="0.75"/><text x="404.03" y="244.80" font-size="5.6" text-anchor="middle" stroke="#000" stroke-width="0.12" textLength="10.60" lengthAdjust="spacingAndGlyphs" transform="rotate(0.05 404.03 244.80)">0.25</text><line x1="425.40" y1="237.30" x2="425.40" y2="239.10" stroke="#000" stroke-width="0.75"/><text x="425.40" y="244.80" font-size="5.6" text-anchor="middle" stroke="#000" stroke-width="0.12" textLength="10.60" lengthAdjust="spacingAndGlyphs" transform="rotate(0.05 425.40 244.80)">0.50</text><line x1="446.76" y1="237.30" x2="446.76" y2="239.10" stroke="#000" stroke-width="0.75"/><text x="446.76" y="244.80" font-size="5.6" text-anchor="middle" stroke="#000" stroke-width="0.12" textLength="10.60" lengthAdjust="spacingAndGlyphs" transform="rotate(0.05 446.76 244.80)">0.75</text><line x1="468.13" y1="237.30" x2="468.13" y2="239.10" stroke="#000" stroke-width="0.75"/><text x="468.13" y="244.80" font-size="5.6" text-anchor="middle" stroke="#000" stroke-width="0.12" textLength="10.60" lengthAdjust="spacingAndGlyphs" transform="rotate(0.05 468.13 244.80)">1.00</text><line x1="295.40" y1="237.30" x2="297.20" y2="237.30" stroke="#000" stroke-width="0.75"/><text x="294.20" y="239.25" font-size="5.6" text-anchor="end" stroke="#000" stroke-width="0.12" textLength="7.60" lengthAdjust="spacingAndGlyphs" transform="rotate(0.05 294.20 239.25)">0.0</text><line x1="295.40" y1="218.44" x2="297.20" y2="218.44" stroke="#000" stroke-width="0.75"/><text x="294.20" y="220.39" font-size="5.6" text-anchor="end" stroke="#000" stroke-width="0.12" textLength="7.60" lengthAdjust="spacingAndGlyphs" transform="rotate(0.05 294.20 220.39)">0.1</text><line x1="295.40" y1="199.58" x2="297.20" y2="199.58" stroke="#000" stroke-width="0.75"/><text x="294.20" y="201.53" font-size="5.6" text-anchor="end" stroke="#000" stroke-width="0.12" textLength="7.60" lengthAdjust="spacingAndGlyphs" transform="rotate(0.05 294.20 201.53)">0.2</text><line x1="295.40" y1="180.72" x2="297.20" y2="180.72" stroke="#000" stroke-width="0.75"/><text x="294.20" y="182.67" font-size="5.6" text-anchor="end" stroke="#000" stroke-width="0.12" textLength="7.60" lengthAdjust="spacingAndGlyphs" transform="rotate(0.05 294.20 182.67)">0.3</text><line x1="295.40" y1="161.86" x2="297.20" y2="161.86" stroke="#000" stroke-width="0.75"/><text x="294.20" y="163.81" font-size="5.6" text-anchor="end" stroke="#000" stroke-width="0.12" textLength="7.60" lengthAdjust="spacingAndGlyphs" transform="rotate(0.05 294.20 163.81)">0.4</text><line x1="295.40" y1="143.00" x2="297.20" y2="143.00" stroke="#000" stroke-width="0.75"/><text x="294.20" y="144.95" font-size="5.6" text-anchor="end" stroke="#000" stroke-width="0.12" textLength="7.60" lengthAdjust="spacingAndGlyphs" transform="rotate(0.05 294.20 144.95)">0.5</text><text x="1.94" y="18.30" font-size="9.2" font-weight="bold" textLength="72.16" lengthAdjust="spacingAndGlyphs" transform="rotate(0.05 1.94 18.30)" stroke="#000" stroke-width="0.35">Watts-Strogatz</text><text x="1.94" y="38.50" font-size="9.2" font-weight="bold" textLength="38.25" lengthAdjust="spacingAndGlyphs" transform="rotate(0.05 1.94 38.50)" stroke="#000" stroke-width="0.35">Modular</text><text x="1.91" y="58.70" font-size="9.2" font-weight="bold" textLength="56.83" lengthAdjust="spacingAndGlyphs" transform="rotate(0.05 1.91 58.70)" stroke="#000" stroke-width="0.35">Hierarchical</text><text x="1.96" y="78.90" font-size="9.2" font-weight="bold" textLength="79.66" lengthAdjust="spacingAndGlyphs" transform="rotate(0.05 1.96 78.90)" stroke="#000" stroke-width="0.35">Barabasi-Alberts</text><text x="2.14" y="99.00" font-size="9.2" font-weight="bold" textLength="52.64" lengthAdjust="spacingAndGlyphs" transform="rotate(0.05 2.14 99.00)" stroke="#000" stroke-width="0.35">Conectome</text><text x="87.58" y="106.50" font-size="5.2" font-weight="bold" textLength="19.09" lengthAdjust="spacingAndGlyphs" transform="rotate(0.05 87.58 106.50)" stroke="#000" stroke-width="0.12">Lattice</text><text x="112.95" y="106.50" font-size="5.2" font-weight="bold" textLength="33.11" lengthAdjust="spacingAndGlyphs" transform="rotate(0.05 112.95 106.50)" stroke="#000" stroke-width="0.12">Soft Lattice</text><text x="154.85" y="106.50" font-size="5.2" font-weight="bold" textLength="34.78" lengthAdjust="spacingAndGlyphs" transform="rotate(0.05 154.85 106.50)" stroke="#000" stroke-width="0.12">Small World</text><text x="196.56" y="106.50" font-size="5.2" font-weight="bold" textLength="37.06" lengthAdjust="spacingAndGlyphs" transform="rotate(0.05 196.56 106.50)" stroke="#000" stroke-width="0.12">Soft Random</text><text x="238.05" y="106.50" font-size="5.2" font-weight="bold" textLength="22.93" lengthAdjust="spacingAndGlyphs" transform="rotate(0.05 238.05 106.50)" stroke="#000" stroke-width="0.12">Random</text><text x="69.08" y="7.30" font-size="8.4" font-weight="bold" textLength="7.70" lengthAdjust="spacingAndGlyphs" transform="rotate(0.05 69.08 7.30)" stroke="#000" stroke-width="0.35">A</text><text x="281.04" y="8.60" font-size="8.4" font-weight="bold" textLength="5.34" lengthAdjust="spacingAndGlyphs" transform="rotate(0.05 281.04 8.60)" stroke="#000" stroke-width="0.35">B</text><text x="490.65" y="9.00" font-size="8.4" font-weight="bold" textLength="5.77" lengthAdjust="spacingAndGlyphs" transform="rotate(0.05 490.65 9.00)" stroke="#000" stroke-width="0.35">C</text><text x="70.04" y="135.70" font-size="8.4" font-weight="bold" textLength="6.25" lengthAdjust="spacingAndGlyphs" transform="rotate(0.05 70.04 135.70)" stroke="#000" stroke-width="0.35">D</text><text x="281.28" y="135.70" font-size="8.4" font-weight="bold" textLength="4.20" lengthAdjust="spacingAndGlyphs" transform="rotate(0.05 281.28 135.70)" stroke="#000" stroke-width="0.35">E</text><text x="150.64" y="254.00" font-size="8.95" font-weight="normal" textLength="46.99" lengthAdjust="spacingAndGlyphs" transform="rotate(0.05 150.64 254.00)" stroke="#000" stroke-width="0.15">Omega (<tspan font-style="italic">ω</tspan>)</text><text x="360.99" y="254.00" font-size="8.95" font-weight="normal" textLength="46.81" lengthAdjust="spacingAndGlyphs" transform="rotate(0.05 360.99 254.00)" stroke="#000" stroke-width="0.15">Omega (<tspan font-style="italic">ω</tspan>)</text><text x="282.30" y="104.72" font-size="8.95" font-weight="normal" textLength="90.83" lengthAdjust="spacingAndGlyphs" transform="rotate(-89.95 282.30 104.72)" stroke="#000" stroke-width="0.15">Clustering Coeff. (cc)</text><text x="492.60" y="89.06" font-size="8.95" font-weight="normal" textLength="61.38" lengthAdjust="spacingAndGlyphs" transform="rotate(-89.95 492.60 89.06)" stroke="#000" stroke-width="0.15">Modularity (Q)</text><text x="77.30" y="217.24" font-size="8.95" font-weight="normal" textLength="64.60" lengthAdjust="spacingAndGlyphs" transform="rotate(-89.95 77.30 217.24)" stroke="#000" stroke-width="0.15">Path Length (L)</text><text x="282.40" y="227.84" font-size="8.95" font-weight="normal" textLength="85.10" lengthAdjust="spacingAndGlyphs" transform="rotate(-89.95 282.40 227.84)" stroke="#000" stroke-width="0.15">Global Efficiency (<tspan font-style="italic">η</tspan>)</text></svg>
</body></html>
